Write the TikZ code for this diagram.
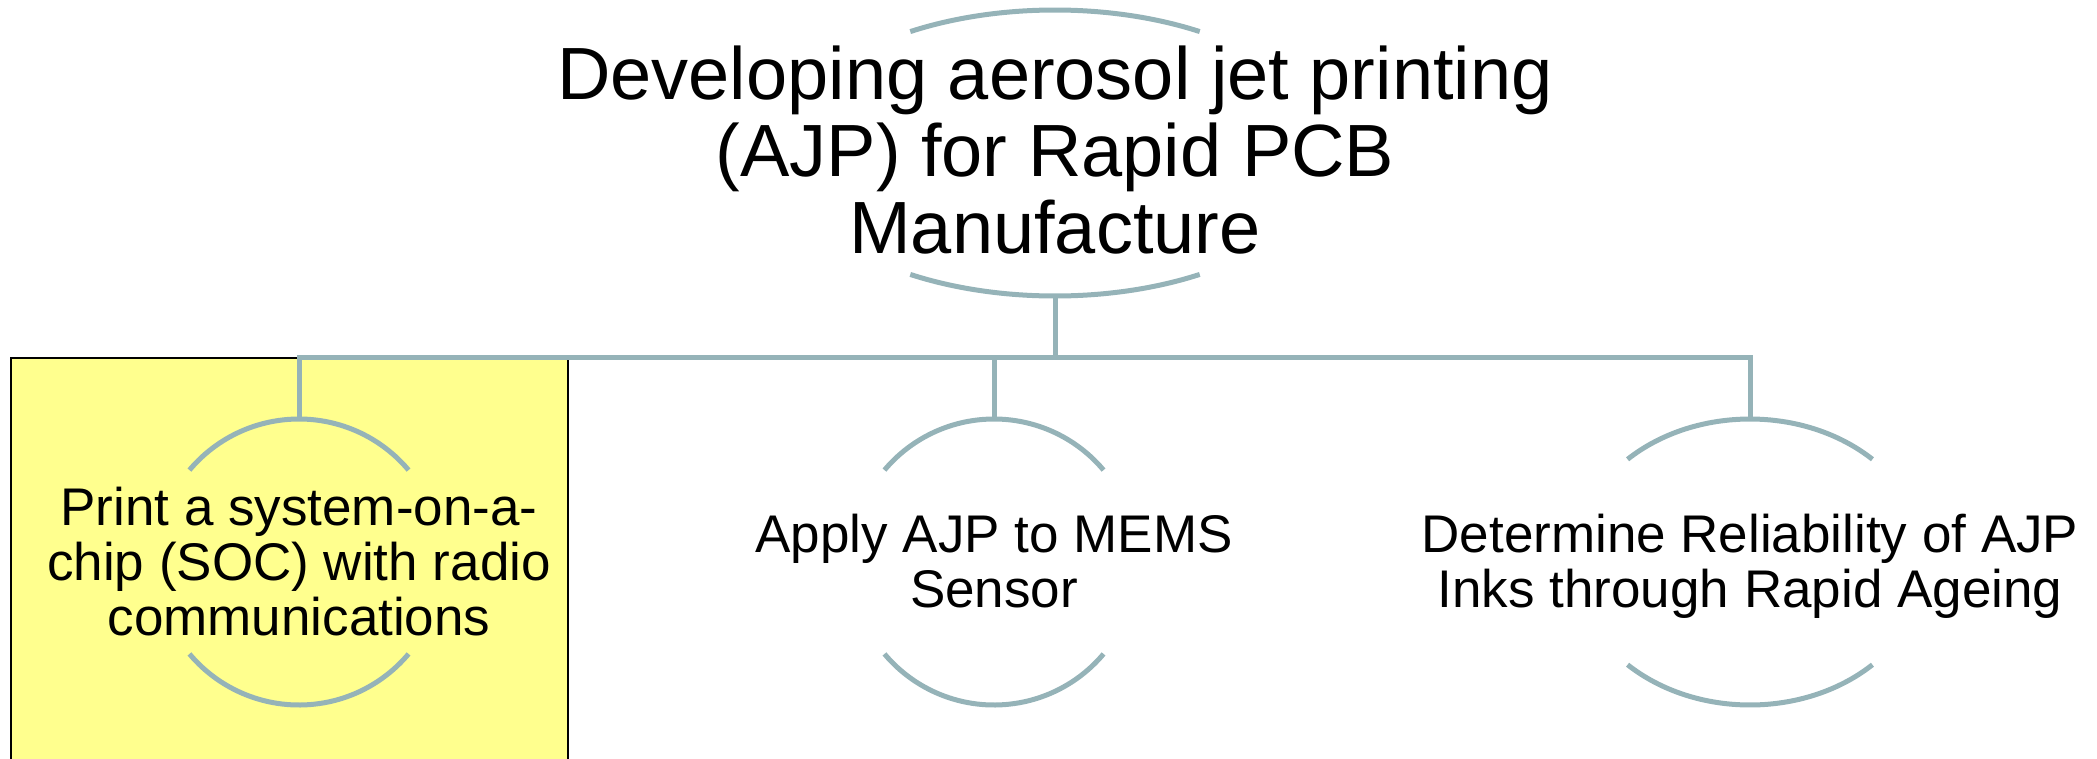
\documentclass[tikz,border=0pt]{standalone}
\usepackage{fontspec}
\setmainfont{Liberation Sans}
\definecolor{linec}{RGB}{149,179,184}
\definecolor{hiyel}{RGB}{255,255,142}
\tikzset{
  arcline/.style={draw=linec, line width=5pt},
  conn/.style={draw=linec, line width=5pt},
  rootlabel/.style={font=\fontsize{74}{77}\selectfont, align=center, inner sep=0pt, text=black},
  kidlabel/.style={font=\fontsize{53}{55}\selectfont, align=center, inner sep=0pt, text=black},
  hibox/.style={fill=hiyel, draw=black, line width=1.5pt}
}
\newcommand{\ArcPair}[3]{% center coordinate name, rx, ry
  \pgfmathsetmacro\myta{atan(#2/#3*tan(40))}
  \draw[arcline] (#1) ++(\myta:#2 and #3) arc[start angle=\myta, end angle=180-\myta, x radius=#2, y radius=#3];
  \draw[arcline] (#1) ++(180+\myta:#2 and #3) arc[start angle=180+\myta, end angle=360-\myta, x radius=#2, y radius=#3];
}
\begin{document}
\begin{tikzpicture}[x=1pt,y=1pt]
\useasboundingbox (0,0) rectangle (2097,-758);
% highlighted box behind first child
\path[hibox] (11,-358) rectangle (568,-775);
% centres of the shapes
\coordinate (rootC) at (1055,-153);
\coordinate (c1C) at (299,-562);
\coordinate (c2C) at (994,-562);
\coordinate (c3C) at (1750,-562);
% connection points
\coordinate (rootB) at (1055,-296);
\coordinate (c1T) at (299,-419);
\coordinate (c2T) at (994,-419);
\coordinate (c3T) at (1750,-419);
% arcs
\ArcPair{rootC}{274}{143}
\ArcPair{c1C}{143}{143}
\ArcPair{c2C}{143}{143}
\ArcPair{c3C}{176}{143}
% connectors
\draw[conn] (rootB) -- ++(0,-61) -| (c1T);
\draw[conn] (rootB) -- ++(0,-61) -| (c2T);
\draw[conn] (rootB) -- ++(0,-61) -| (c3T);
% labels
\node[rootlabel] (root) at (1055,-150) {Developing aerosol jet printing\\(AJP) for Rapid PCB\\Manufacture};
\node[kidlabel] (c1) at (299,-562) {Print a system-on-a-\\chip (SOC) with radio\\communications};
\node[kidlabel] (c2) at (994,-561) {Apply AJP to MEMS\\Sensor};
\node[kidlabel] (c3) at (1750,-566) {Determine Reliability of AJP\\Inks through Rapid Ageing};
\end{tikzpicture}
\end{document}
